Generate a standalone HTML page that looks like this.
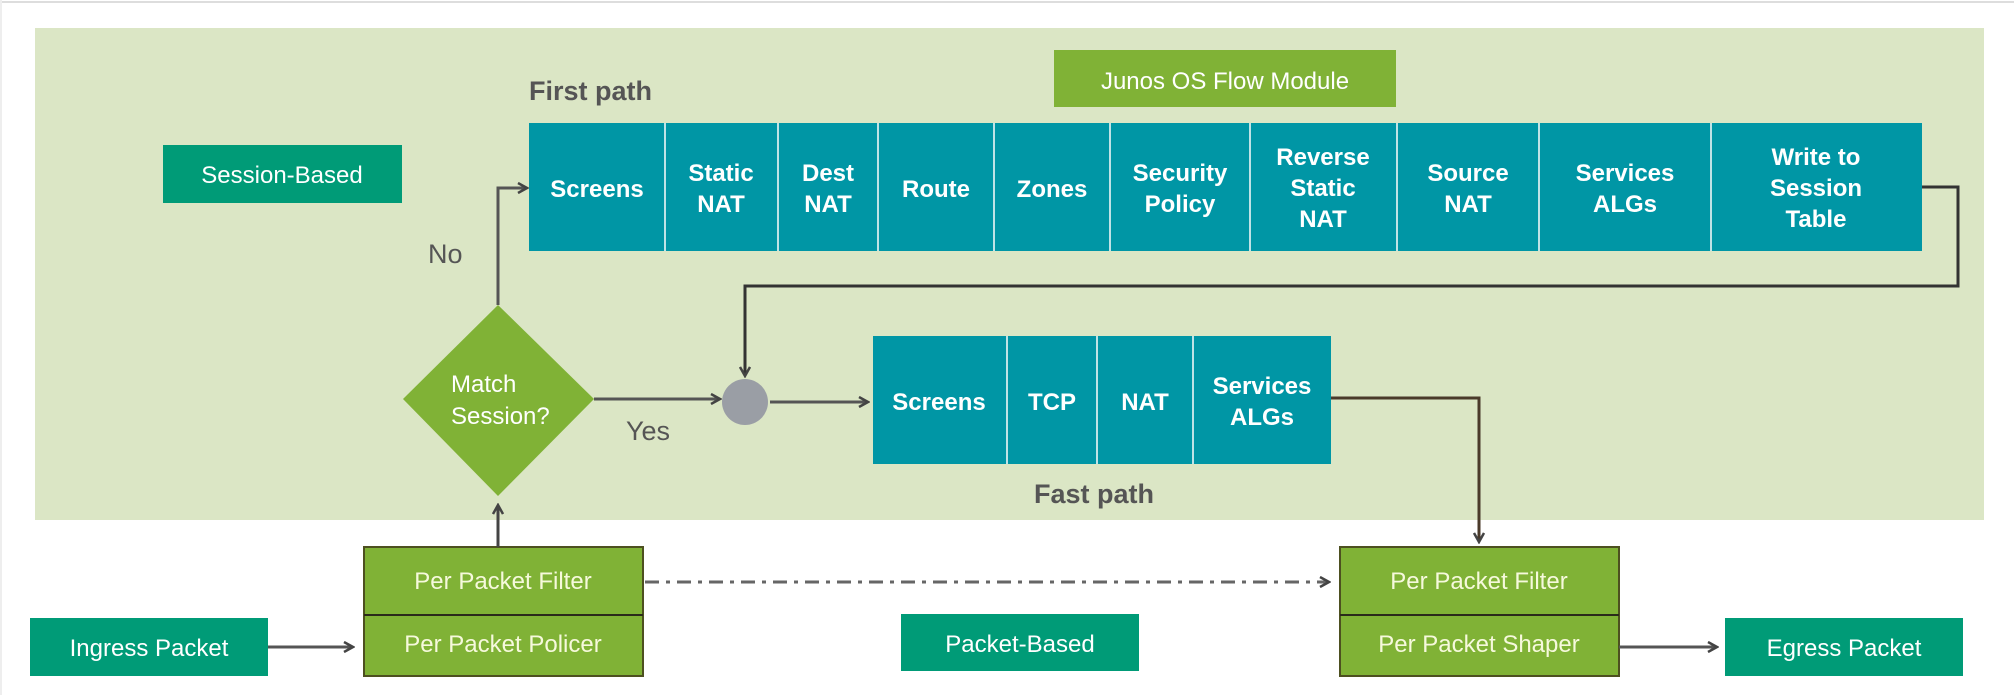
<!DOCTYPE html>
<html><head><meta charset="utf-8"><style>
html,body{margin:0;padding:0;background:#fff;}
svg{display:block;}
text{font-family:"Liberation Sans",sans-serif;}
</style></head><body>
<svg width="2014" height="695" viewBox="0 0 2014 695" xmlns="http://www.w3.org/2000/svg">
<defs>
<marker id="ah" markerWidth="12" markerHeight="12" refX="9" refY="6" orient="auto" markerUnits="userSpaceOnUse">
<path d="M1,1 L10,6 L1,11" fill="none" stroke="#444" stroke-width="2.5"/>
</marker>
</defs>
<rect x="0" y="0" width="2014" height="695" fill="#fff"/>
<line x1="0" y1="2" x2="2014" y2="2" stroke="#ddd" stroke-width="2"/>
<line x1="1" y1="0" x2="1" y2="695" stroke="#eee" stroke-width="2"/>
<rect x="35" y="28" width="1949" height="492" fill="#dbe6c5"/>

<rect x="163" y="145" width="239" height="58" fill="#009b77"/>
<text x="282" y="183" font-size="24" fill="#fff" text-anchor="middle">Session-Based</text>

<text x="529" y="100" font-size="27" font-weight="bold" fill="#555">First path</text>

<rect x="1054" y="50" width="342" height="57" fill="#80b236"/>
<text x="1225" y="89" font-size="24" fill="#fff" text-anchor="middle">Junos OS Flow Module</text>

<rect x="529" y="123" width="1393" height="128" fill="#0096a5"/>
<g stroke="#bfe3e6" stroke-width="2">
<line x1="665" y1="123" x2="665" y2="251"/><line x1="778" y1="123" x2="778" y2="251"/>
<line x1="878" y1="123" x2="878" y2="251"/><line x1="994" y1="123" x2="994" y2="251"/>
<line x1="1110" y1="123" x2="1110" y2="251"/><line x1="1250" y1="123" x2="1250" y2="251"/>
<line x1="1397" y1="123" x2="1397" y2="251"/><line x1="1539" y1="123" x2="1539" y2="251"/>
<line x1="1711" y1="123" x2="1711" y2="251"/>
</g>
<g font-size="24" font-weight="bold" fill="#fff" text-anchor="middle">
<text x="597" y="197">Screens</text>
<text x="721" y="181">Static</text><text x="721" y="212">NAT</text>
<text x="828" y="181">Dest</text><text x="828" y="212">NAT</text>
<text x="936" y="197">Route</text>
<text x="1052" y="197">Zones</text>
<text x="1180" y="181">Security</text><text x="1180" y="212">Policy</text>
<text x="1323" y="165">Reverse</text><text x="1323" y="196">Static</text><text x="1323" y="227">NAT</text>
<text x="1468" y="181">Source</text><text x="1468" y="212">NAT</text>
<text x="1625" y="181">Services</text><text x="1625" y="212">ALGs</text>
<text x="1816" y="165">Write to</text><text x="1816" y="196">Session</text><text x="1816" y="227">Table</text>
</g>

<polyline points="1922,187 1958,187 1958,286 745,286 745,375" fill="none" stroke="#333" stroke-width="3" marker-end="url(#ah)"/>

<polygon points="498,305 594,399 498,496 403,399" fill="#80b236"/>
<text x="451" y="392" font-size="24" fill="#fff">Match</text>
<text x="451" y="424" font-size="24" fill="#fff">Session?</text>

<polyline points="498,305 498,188 526,188" fill="none" stroke="#555" stroke-width="3" marker-end="url(#ah)"/>
<text x="428" y="263" font-size="27" fill="#555">No</text>

<line x1="594" y1="399" x2="719" y2="399" stroke="#555" stroke-width="3" marker-end="url(#ah)"/>
<text x="626" y="440" font-size="27" fill="#555">Yes</text>

<circle cx="745" cy="402" r="23" fill="#9a9ea5"/>
<line x1="770" y1="402" x2="867" y2="402" stroke="#555" stroke-width="3" marker-end="url(#ah)"/>

<rect x="873" y="336" width="458" height="128" fill="#0096a5"/>
<g stroke="#bfe3e6" stroke-width="2">
<line x1="1007" y1="336" x2="1007" y2="464"/><line x1="1097" y1="336" x2="1097" y2="464"/>
<line x1="1193" y1="336" x2="1193" y2="464"/>
</g>
<g font-size="24" font-weight="bold" fill="#fff" text-anchor="middle">
<text x="939" y="410">Screens</text>
<text x="1052" y="410">TCP</text>
<text x="1145" y="410">NAT</text>
<text x="1262" y="394">Services</text><text x="1262" y="425">ALGs</text>
</g>
<text x="1034" y="503" font-size="27" font-weight="bold" fill="#555">Fast path</text>

<polyline points="1331,398 1479,398 1479,541" fill="none" stroke="#4a3a2a" stroke-width="3" marker-end="url(#ah)"/>

<rect x="364" y="547" width="279" height="129" fill="#80b236" stroke="#4d5020" stroke-width="2"/>
<line x1="364" y1="615" x2="643" y2="615" stroke="#2a2a1a" stroke-width="2"/>
<text x="503" y="589" font-size="24" fill="#f6f9dc" text-anchor="middle">Per Packet Filter</text>
<text x="503" y="652" font-size="24" fill="#f6f9dc" text-anchor="middle">Per Packet Policer</text>
<line x1="498" y1="547" x2="498" y2="506" stroke="#444" stroke-width="3" marker-end="url(#ah)"/>

<rect x="30" y="618" width="238" height="58" fill="#009b77"/>
<text x="149" y="656" font-size="24" fill="#fff" text-anchor="middle">Ingress Packet</text>
<line x1="268" y1="647" x2="352" y2="647" stroke="#555" stroke-width="3" marker-end="url(#ah)"/>

<line x1="645" y1="582" x2="1328" y2="582" stroke="#666" stroke-width="3" stroke-dasharray="14,7,4,7" marker-end="url(#ah)"/>

<rect x="901" y="614" width="238" height="57" fill="#009b77"/>
<text x="1020" y="652" font-size="24" fill="#fff" text-anchor="middle">Packet-Based</text>

<rect x="1340" y="547" width="279" height="129" fill="#80b236" stroke="#4d5020" stroke-width="2"/>
<line x1="1340" y1="615" x2="1619" y2="615" stroke="#2a2a1a" stroke-width="2"/>
<text x="1479" y="589" font-size="24" fill="#f6f9dc" text-anchor="middle">Per Packet Filter</text>
<text x="1479" y="652" font-size="24" fill="#f6f9dc" text-anchor="middle">Per Packet Shaper</text>
<line x1="1619" y1="647" x2="1716" y2="647" stroke="#555" stroke-width="3" marker-end="url(#ah)"/>

<rect x="1725" y="618" width="238" height="58" fill="#009b77"/>
<text x="1844" y="656" font-size="24" fill="#fff" text-anchor="middle">Egress Packet</text>
</svg>
</body></html>
